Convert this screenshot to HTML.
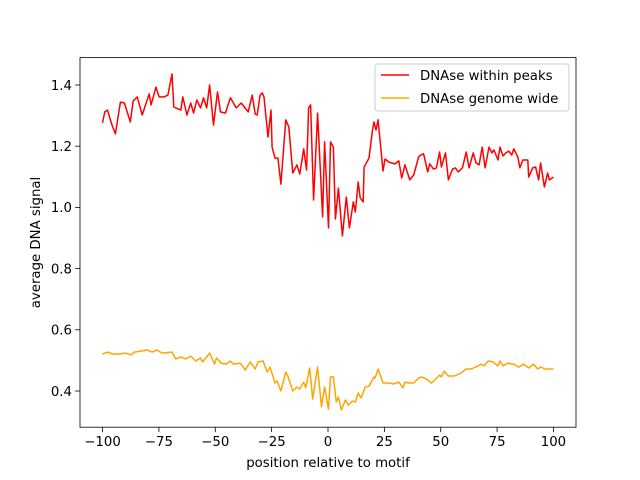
<!DOCTYPE html>
<html><head><meta charset="utf-8"><style>
body{margin:0;background:#fff;}
svg{display:block;font-family:"DejaVu Sans","Liberation Sans",sans-serif;}
</style></head><body>
<svg id="chart" width="640" height="480" viewBox="0 0 640 480" xmlns="http://www.w3.org/2000/svg">
<rect width="640" height="480" fill="#fff"/>
<g id="plot"></g>
<g id="axes"></g>
<text x="328" y="467" font-size="13.3" text-anchor="middle">position relative to motif</text>
<text transform="translate(40,242.5) rotate(-90)" font-size="13.3" text-anchor="middle">average DNA signal</text>
<g>
<rect x="375" y="64" width="194" height="47" rx="3" fill="#fff" fill-opacity="0.8" stroke="#ccc"/>
<line x1="381" y1="75" x2="409" y2="75" stroke="red" stroke-width="1.5"/>
<text x="420" y="80" font-size="13.3">DNAse within peaks</text>
<line x1="381" y1="98" x2="409" y2="98" stroke="orange" stroke-width="1.5"/>
<text x="420" y="103" font-size="13.3">DNAse genome wide</text>
</g>
</svg>
<script>
const redX=[-100,-99,-97.8,-96,-94.3,-92.1,-90.3,-87.7,-86.4,-84.6,-82.4,-79.3,-78.5,-76.3,-74.9,-72.7,-71,-69.2,-68.4,-65.3,-64.4,-62.6,-60.9,-59.6,-58.2,-56.5,-55.2,-53.8,-52.5,-50.8,-49,-47.7,-45.5,-43.3,-40.7,-38.5,-35.4,-33.6,-32.3,-31.4,-30.1,-29.2,-28.4,-26.6,-25.3,-24.8,-23.5,-22.2,-20.9,-18.7,-17.4,-15.6,-13.8,-12.5,-10.8,-9.5,-8.6,-7.7,-6.4,-4.6,-2.4,-1.5,0.2,1.1,2.4,3.3,4.6,6.4,8.1,9.5,11.2,12.1,13.4,14.3,15.6,16,18.2,19.6,20.4,21.3,22.2,24.4,25.3,27,29.7,31.4,32.7,34.1,36.3,38,40.2,41.1,42.4,44.2,45.1,46.8,48.1,49.5,50.3,52.1,53.4,55.2,56.5,57.8,59.6,61.3,62.6,64.4,65.7,67,68.4,69.7,71.4,72.7,73.6,75.4,76.3,77.6,78.9,80.2,81.5,82.4,84.2,85.1,86.4,88.6,89,90.8,92.1,93.4,94.3,96,97.4,98.2,100];
const redY=[1.276,1.312,1.318,1.273,1.24,1.344,1.341,1.279,1.348,1.361,1.302,1.371,1.335,1.393,1.361,1.361,1.367,1.436,1.328,1.318,1.361,1.302,1.341,1.308,1.351,1.325,1.358,1.325,1.4,1.269,1.377,1.312,1.308,1.358,1.325,1.341,1.312,1.367,1.305,1.302,1.367,1.374,1.361,1.23,1.318,1.197,1.161,1.161,1.076,1.286,1.263,1.112,1.139,1.109,1.191,1.122,1.325,1.335,1.024,1.308,0.969,1.214,0.933,1.214,1.197,0.962,1.063,0.907,1.034,0.933,1.018,0.985,1.083,1.031,1.018,1.132,1.161,1.246,1.279,1.253,1.286,1.119,1.158,1.148,1.142,1.152,1.096,1.139,1.09,1.106,1.165,1.171,1.175,1.116,1.142,1.125,1.129,1.181,1.132,1.178,1.09,1.125,1.129,1.116,1.129,1.181,1.129,1.178,1.145,1.139,1.197,1.129,1.197,1.178,1.188,1.155,1.197,1.168,1.178,1.184,1.171,1.191,1.165,1.129,1.155,1.155,1.099,1.129,1.132,1.09,1.145,1.067,1.112,1.09,1.099];
const orangeX=[-100,-97.8,-95.6,-92.5,-89.9,-87.3,-85.9,-82.4,-80.2,-78,-75.8,-73.6,-69.2,-67.5,-65.3,-63.1,-60.9,-58.7,-56.5,-55.6,-52.5,-50.3,-49.5,-47.3,-45.1,-43.3,-42,-38.9,-36.7,-34.5,-32.3,-31,-28.8,-27,-25.7,-23.5,-22.6,-20.9,-18.7,-17.8,-15.6,-13.8,-12.5,-10.8,-9.9,-8.1,-6.8,-4.6,-2.9,-1.5,0.2,1.1,2.4,3.7,4.6,5.9,7.7,9,10.8,12.1,13.4,14.7,16.5,18.2,20.4,20.9,22.2,24.4,27,29.2,31.4,33.2,34.1,35.8,38,40.2,41.5,43.7,45.9,47.3,49.5,50.3,51.6,53.4,56,59.1,61.3,63.5,66.6,67.9,69.2,71,73.2,75.4,76.3,77.6,79.8,82.4,84.6,86.8,89,91.2,93,94.3,96.5,98.2,100];
const orangeY=[0.521,0.527,0.521,0.521,0.524,0.518,0.527,0.531,0.534,0.527,0.534,0.524,0.527,0.505,0.511,0.505,0.514,0.498,0.508,0.495,0.524,0.488,0.508,0.491,0.488,0.498,0.488,0.491,0.469,0.495,0.472,0.495,0.498,0.462,0.478,0.426,0.433,0.4,0.462,0.449,0.4,0.413,0.407,0.429,0.41,0.475,0.374,0.478,0.348,0.413,0.341,0.446,0.446,0.364,0.38,0.338,0.371,0.354,0.367,0.364,0.393,0.377,0.413,0.416,0.446,0.442,0.472,0.426,0.426,0.423,0.429,0.41,0.429,0.426,0.426,0.442,0.446,0.439,0.426,0.436,0.452,0.446,0.465,0.449,0.449,0.459,0.472,0.472,0.482,0.488,0.482,0.498,0.495,0.482,0.498,0.482,0.491,0.488,0.478,0.488,0.475,0.488,0.472,0.478,0.472,0.472,0.472];
const xTicks=[-100,-75,-50,-25,0,25,50,75,100];
const yTicks=[0.4,0.6,0.8,1.0,1.2,1.4];
const yTickLabels=["0.4","0.6","0.8","1.0","1.2","1.4"];

const L=80,R=576,T=57.6,B=427.2;
const xMin=-110,xMax=110,yMin=0.2817,yMax=1.4895;
const sx=v=>L+(v-xMin)/(xMax-xMin)*(R-L);
const sy=v=>B-(v-yMin)/(yMax-yMin)*(B-T);
const NS="http://www.w3.org/2000/svg";
const plot=document.getElementById('plot'),axes=document.getElementById('axes');
function mk(tag,attrs,parent){const e=document.createElementNS(NS,tag);for(const k in attrs)e.setAttribute(k,attrs[k]);parent.appendChild(e);return e;}

const pr=mk('polyline',{points:redX.map((x,i)=>sx(x).toFixed(1)+','+sy(redY[i]).toFixed(1)).join(' '),fill:'none',stroke:'red','stroke-width':1.5,'stroke-linejoin':'round'},plot);


const po=mk('polyline',{points:orangeX.map((x,i)=>sx(x).toFixed(1)+','+sy(orangeY[i]).toFixed(1)).join(' '),fill:'none',stroke:'orange','stroke-width':1.5,'stroke-linejoin':'round'},plot);



const frame=mk('rect',{x:L,y:T,width:R-L,height:B-T,fill:'none',stroke:'#000','stroke-width':0.8},axes);


xTicks.forEach(v=>{
  const x=sx(v);
  const t=mk('line',{x1:x,y1:B,x2:x,y2:B+4.9,stroke:'#000','stroke-width':0.8},axes);
  
  
  const lb=mk('text',{x:x,y:B+19,'font-size':13.3,'text-anchor':'middle'},axes);
  lb.textContent=(v<0?'\u2212'+(-v):String(v));
  
  
});
yTicks.forEach((v,i)=>{
  const y=sy(v);
  const t=mk('line',{x1:L-4.9,y1:y,x2:L,y2:y,stroke:'#000','stroke-width':0.8},axes);
  
  
  const lb=mk('text',{x:L-8,y:y+4.8,'font-size':13.3,'text-anchor':'end'},axes);
  lb.textContent=yTickLabels[i];
  
  
});
</script>
</body></html>
